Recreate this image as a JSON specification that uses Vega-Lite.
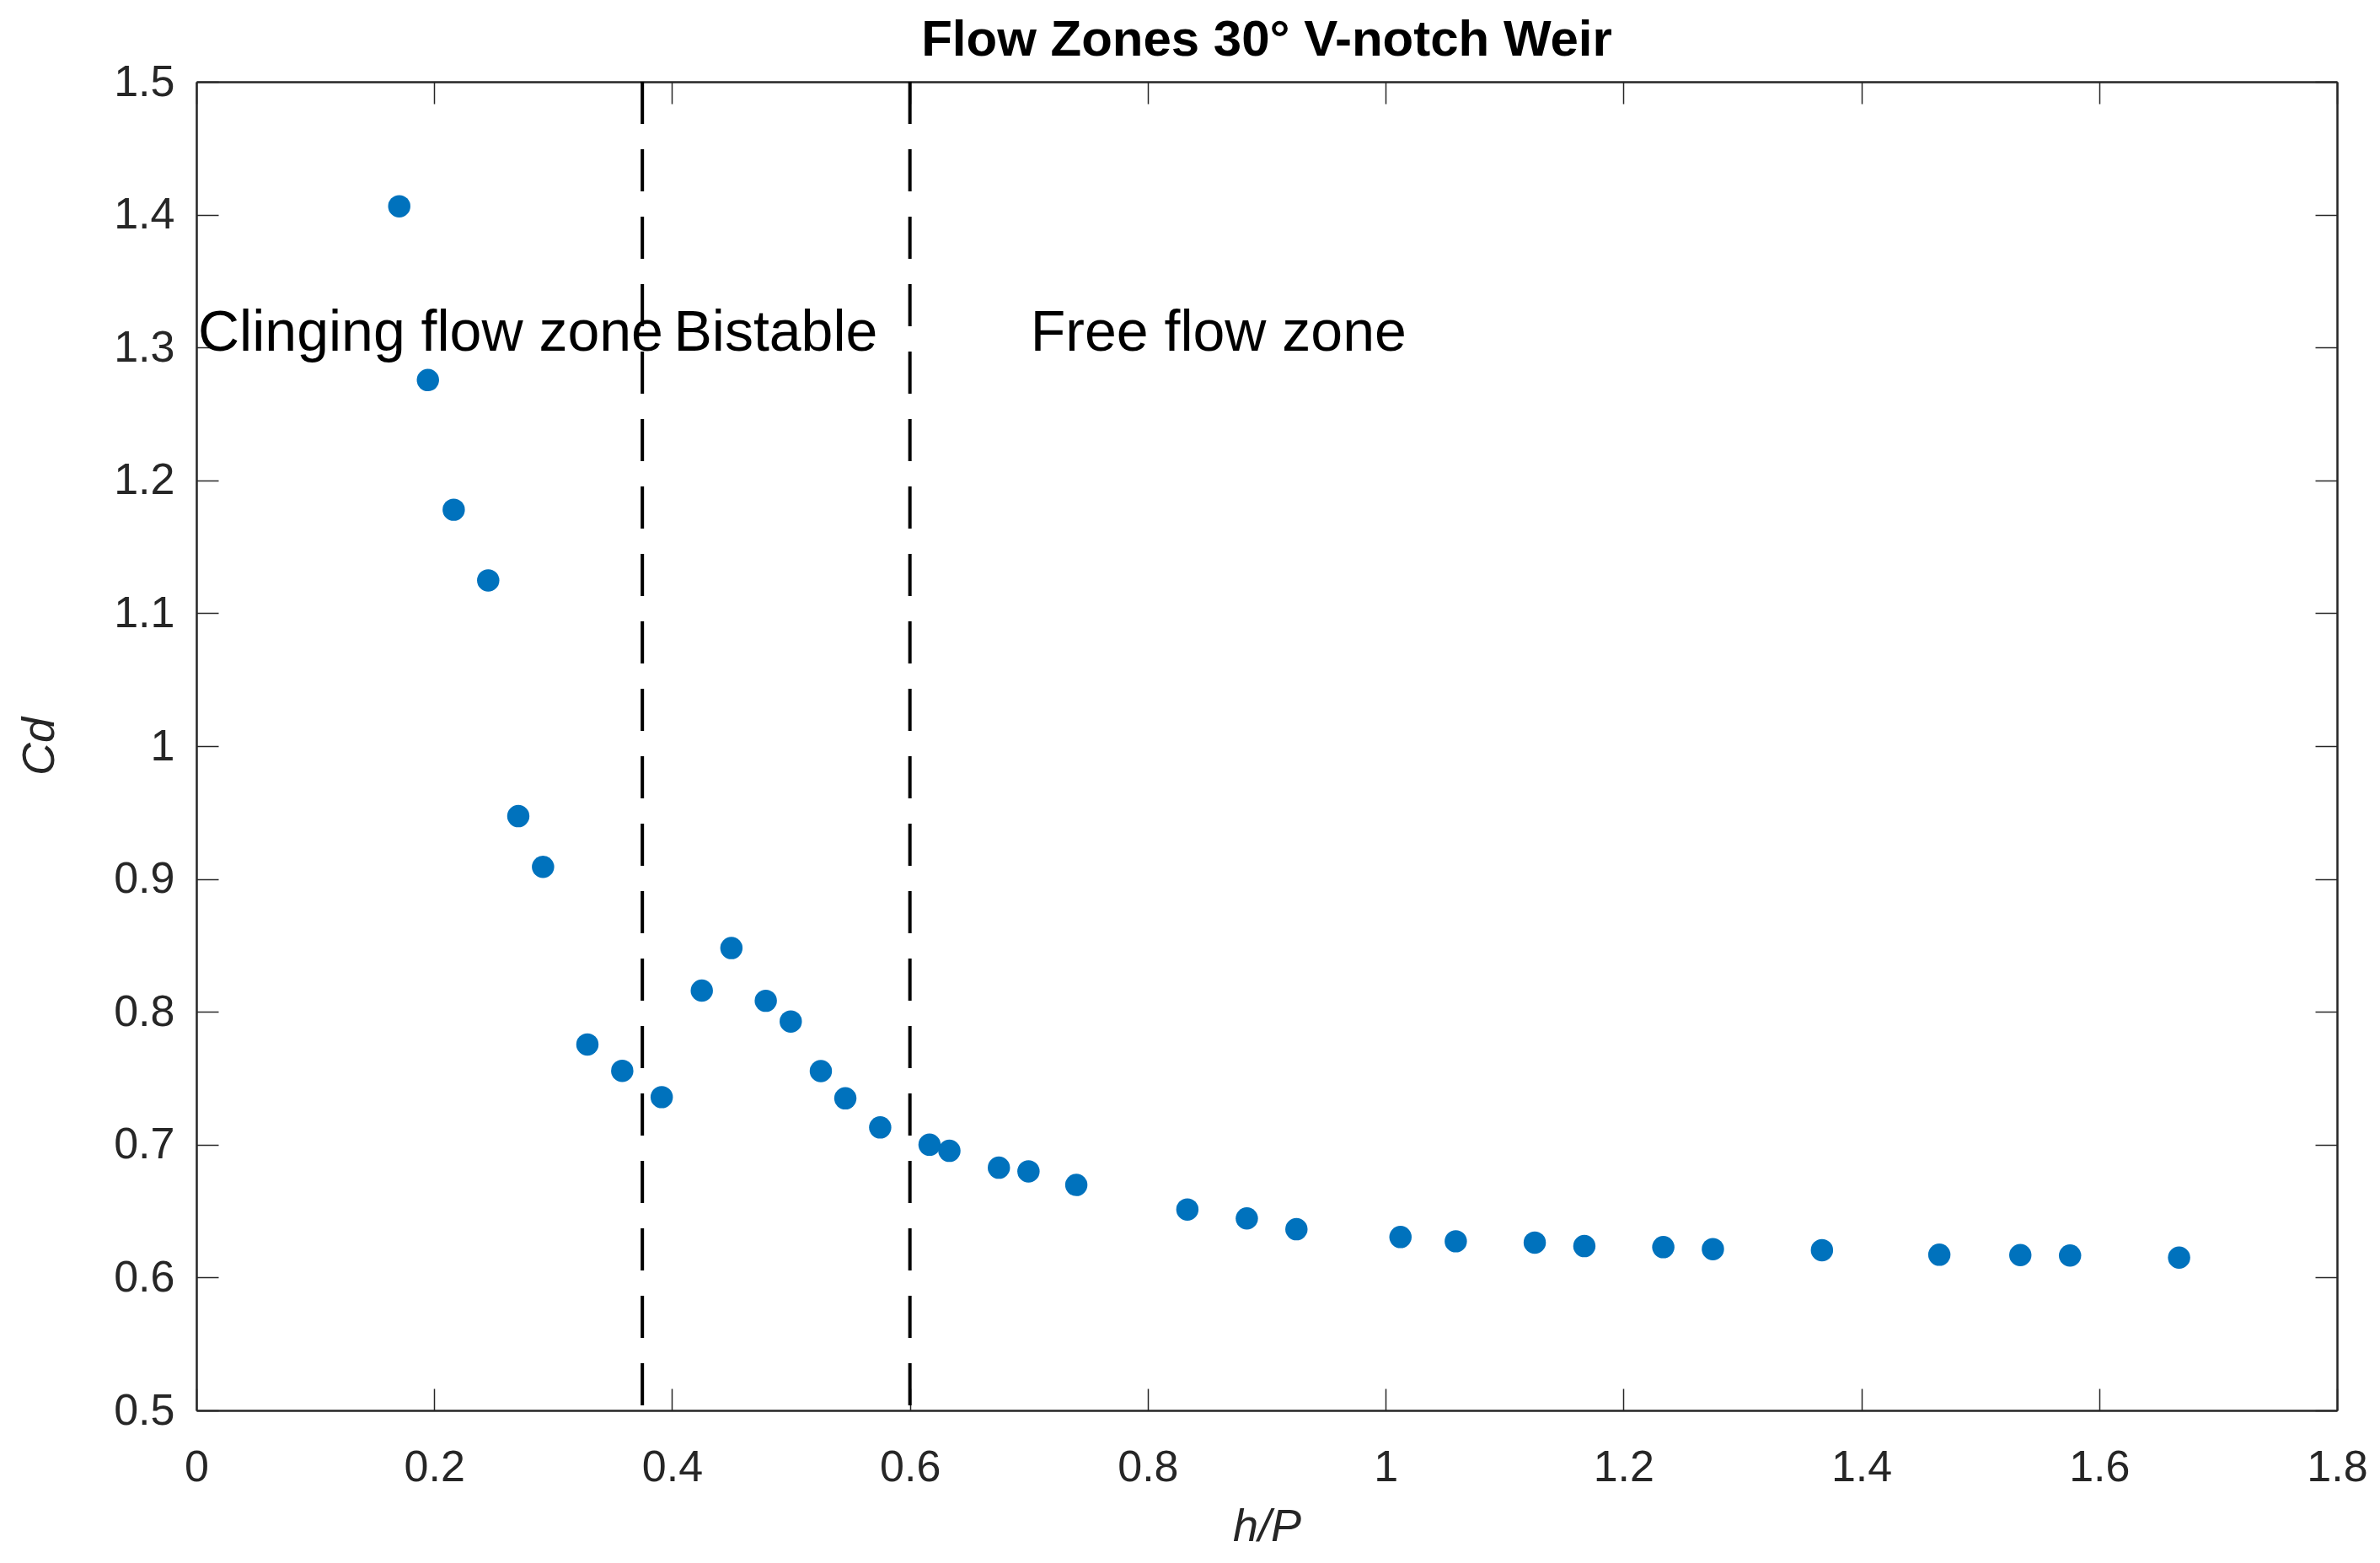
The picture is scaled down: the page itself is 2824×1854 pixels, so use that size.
{
  "$schema": "https://vega.github.io/schema/vega-lite/v6.json",
  "autosize": {"type": "none"},
  "padding": {"left": 233, "top": 97, "right": 51, "bottom": 181},
  "width": 2540,
  "height": 1576,
  "background": "white",
  "title": {
    "text": "Flow Zones 30° V-notch Weir",
    "font": "Liberation Sans",
    "fontSize": 60,
    "fontWeight": "bold",
    "color": "black",
    "anchor": "middle",
    "frame": "group",
    "baseline": "bottom",
    "offset": 16,
    "dy": 84
  },
  "config": {
    "view": {"stroke": null},
    "axis": {
      "grid": false,
      "domainColor": "#262626",
      "domainWidth": 2.5,
      "tickColor": "#262626",
      "tickWidth": 1.5,
      "tickSize": -26,
      "labelColor": "#262626",
      "labelFont": "Liberation Sans",
      "labelFontSize": 52,
      "labelFlush": false,
      "labelOverlap": false,
      "labelBound": false,
      "titleFont": "Liberation Sans",
      "titleFontSize": 54,
      "titleFontStyle": "italic",
      "titleFontWeight": "normal",
      "titleColor": "#262626"
    }
  },
  "layer": [
    {
      "data": {
        "values": [
          {"hP": 0.1706, "Cd": 1.4063},
          {"hP": 0.1947, "Cd": 1.2755},
          {"hP": 0.2164, "Cd": 1.1779},
          {"hP": 0.2454, "Cd": 1.1247},
          {"hP": 0.2707, "Cd": 0.9473},
          {"hP": 0.2915, "Cd": 0.9091},
          {"hP": 0.3288, "Cd": 0.7754},
          {"hP": 0.3581, "Cd": 0.7556},
          {"hP": 0.3913, "Cd": 0.7358},
          {"hP": 0.425, "Cd": 0.816},
          {"hP": 0.4499, "Cd": 0.848},
          {"hP": 0.4788, "Cd": 0.8083},
          {"hP": 0.4998, "Cd": 0.7927},
          {"hP": 0.5251, "Cd": 0.7554},
          {"hP": 0.5457, "Cd": 0.7349},
          {"hP": 0.575, "Cd": 0.713},
          {"hP": 0.6165, "Cd": 0.7},
          {"hP": 0.6332, "Cd": 0.6954},
          {"hP": 0.6748, "Cd": 0.6827},
          {"hP": 0.6997, "Cd": 0.6799},
          {"hP": 0.7399, "Cd": 0.6697},
          {"hP": 0.8333, "Cd": 0.6512},
          {"hP": 0.8833, "Cd": 0.6445},
          {"hP": 0.925, "Cd": 0.6364},
          {"hP": 1.0125, "Cd": 0.6305},
          {"hP": 1.059, "Cd": 0.6273},
          {"hP": 1.1254, "Cd": 0.6263},
          {"hP": 1.1671, "Cd": 0.6237},
          {"hP": 1.2335, "Cd": 0.6229},
          {"hP": 1.2752, "Cd": 0.6214},
          {"hP": 1.3669, "Cd": 0.6206},
          {"hP": 1.4656, "Cd": 0.6172},
          {"hP": 1.5337, "Cd": 0.6169},
          {"hP": 1.5755, "Cd": 0.6166},
          {"hP": 1.6672, "Cd": 0.615}
        ]
      },
      "mark": {"type": "point", "shape": "circle", "filled": true, "size": 700, "color": "#0072BD", "opacity": 1},
      "encoding": {
        "x": {
          "field": "hP",
          "type": "quantitative",
          "title": "h/P",
          "scale": {"domain": [0, 1.8], "nice": false, "zero": false},
          "axis": {
            "orient": "bottom",
            "values": [0, 0.2, 0.4, 0.6, 0.8, 1, 1.2, 1.4, 1.6, 1.8],
            "format": "~g",
            "labelPadding": 68,
            "titlePadding": 18
          }
        },
        "y": {
          "field": "Cd",
          "type": "quantitative",
          "title": "Cd",
          "scale": {"domain": [0.5, 1.5], "nice": false, "zero": false},
          "axis": {
            "orient": "left",
            "values": [0.5, 0.6, 0.7, 0.8, 0.9, 1, 1.1, 1.2, 1.3, 1.4, 1.5],
            "format": "~g",
            "labelPadding": 52,
            "titlePadding": 60
          }
        }
      }
    },
    {
      "data": {"values": [{"bound": 0.375}, {"bound": 0.6}]},
      "mark": {"type": "rule", "color": "black", "strokeWidth": 4, "strokeDash": [50, 30]},
      "encoding": {
        "x": {"field": "bound", "type": "quantitative", "axis": null}
      }
    },
    {
      "data": {
        "values": [
          {"hP": 0.0, "Cd": 1.3, "zone": "Clinging flow zone"},
          {"hP": 0.4, "Cd": 1.3, "zone": "Bistable"},
          {"hP": 0.7, "Cd": 1.3, "zone": "Free flow zone"}
        ]
      },
      "mark": {
        "type": "text",
        "font": "Liberation Sans",
        "fontSize": 68,
        "color": "black",
        "align": "left",
        "baseline": "alphabetic",
        "dx": 2,
        "dy": 4
      },
      "encoding": {
        "x": {
          "field": "hP",
          "type": "quantitative",
          "axis": {
            "orient": "top",
            "values": [0, 0.2, 0.4, 0.6, 0.8, 1, 1.2, 1.4, 1.6, 1.8],
            "labels": false,
            "title": null
          }
        },
        "y": {
          "field": "Cd",
          "type": "quantitative",
          "axis": {
            "orient": "right",
            "values": [0.5, 0.6, 0.7, 0.8, 0.9, 1, 1.1, 1.2, 1.3, 1.4, 1.5],
            "labels": false,
            "title": null
          }
        },
        "text": {"field": "zone"}
      }
    }
  ],
  "resolve": {"axis": {"x": "independent", "y": "independent"}}
}
